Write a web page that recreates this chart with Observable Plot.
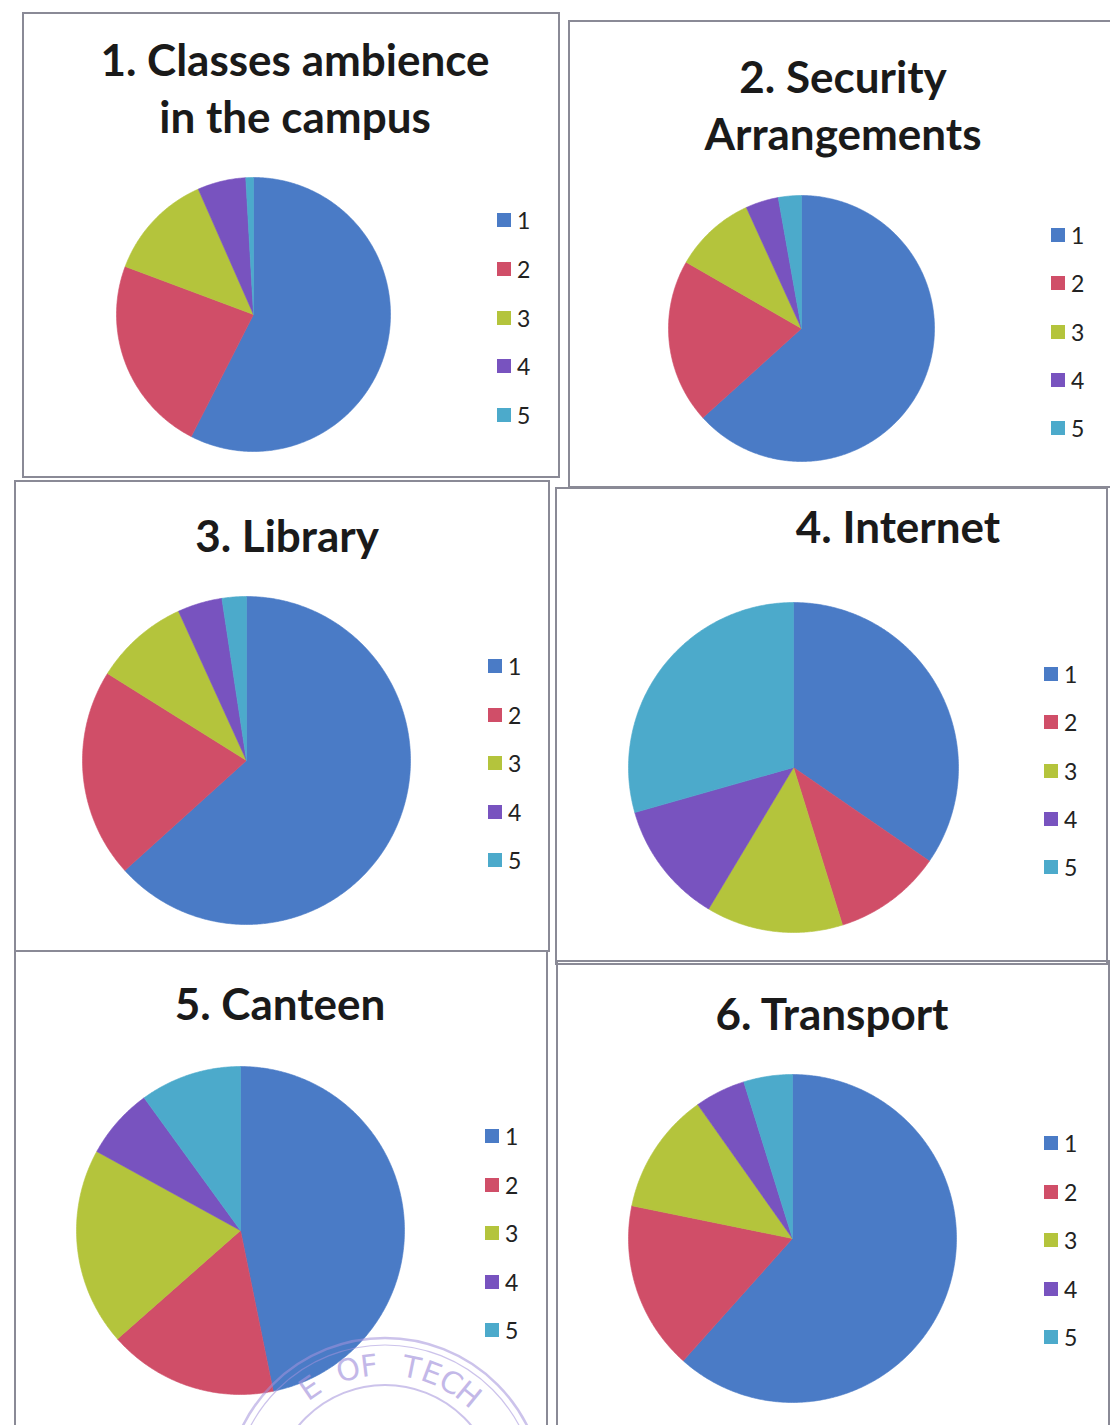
<!DOCTYPE html>
<html><head><meta charset="utf-8">
<script src="https://cdn.jsdelivr.net/npm/d3@7"></script>
<script src="https://cdn.jsdelivr.net/npm/@observablehq/plot@0.6"></script>
<style>
html,body{margin:0;padding:0;background:#fff;}
#page{position:relative;width:1110px;height:1425px;overflow:hidden;background:#fff;font-family:Lato,"Open Sans",sans-serif;}
.panel{position:absolute;border:2px solid #8a8a96;box-sizing:border-box;}
.title{position:absolute;font-weight:700;font-size:44px;color:#1a1a1a;white-space:nowrap;transform:translateX(-50%);line-height:44px;}
.pie{position:absolute;}
.leg{position:absolute;display:flex;align-items:center;height:26px;font-size:23px;color:#222;white-space:nowrap;}
.leg .sw{display:inline-block;width:14px;height:14px;margin-right:6px;}
#stamp{position:absolute;left:0;top:1300px;pointer-events:none;}
</style>
</head><body><div id="page"></div>
<script>
// ---- data ----
const categories = ["1", "2", "3", "4", "5"];
const colors = ["#4a7bc6", "#d04e68", "#b4c43c", "#7853bf", "#4caacb"];
const titles = [
  ["1. Classes ambience", "in the campus"],
  ["2. Security", "Arrangements"],
  ["3. Library"],
  ["4. Internet"],
  ["5. Canteen"],
  ["6. Transport"]
];
const classesAmbience = [57.5, 23.2, 12.7, 5.7, 0.9];
const securityArrangements = [63.3, 20.0, 9.9, 4.0, 2.8];
const library = [63.3, 20.6, 9.3, 4.4, 2.4];
const internet = [34.6, 10.6, 13.4, 12.0, 29.4];
const canteen = [46.8, 16.7, 19.5, 7.0, 10.0];
const transport = [61.6, 16.6, 12.0, 5.0, 4.8];
const series = [classesAmbience, securityArrangements, library, internet, canteen, transport];
const stampText = "INSTITUTE OF TECHNOLOGY";

// ---- layout (page pixels) ----
const panels = [
  {left: 22, top: 12, w: 538, h: 466, tx: 295, ty: [76, 133], cx: 253, cy: 314, r: 137, lx: 497, ly: 220, ls: 48.75},
  {left: 568, top: 20, w: 560, h: 468, tx: 843, ty: [93, 150], cx: 801, cy: 328, r: 133, lx: 1051, ly: 235, ls: 48.25},
  {left: 14, top: 480, w: 536, h: 472, tx: 287, ty: [552], cx: 245.5, cy: 760, r: 164, lx: 488, ly: 666, ls: 48.5},
  {left: 555, top: 487, w: 553, h: 478, tx: 898, ty: [543], cx: 793, cy: 767, r: 165, lx: 1044, ly: 674, ls: 48.25},
  {left: 14, top: 950, w: 534, h: 490, tx: 280, ty: [1020], cx: 240, cy: 1230, r: 164, lx: 485, ly: 1136, ls: 48.5},
  {left: 556, top: 960, w: 554, h: 480, tx: 832, ty: [1030], cx: 792, cy: 1238, r: 164, lx: 1044, ly: 1143, ls: 48.5}
];

const page = document.getElementById("page");

function slicePoints(values) {
  const arcs = d3.pie().sort(null)(values);
  const pts = [];
  arcs.forEach((a, i) => {
    const cat = categories[i];
    pts.push({cat, x: 0, y: 0});
    const n = Math.max(2, Math.ceil((a.endAngle - a.startAngle) / 0.01));
    for (let k = 0; k <= n; k++) {
      const t = a.startAngle + (a.endAngle - a.startAngle) * k / n;
      pts.push({cat, x: Math.sin(t), y: Math.cos(t)});
    }
    pts.push({cat, x: 0, y: 0});
  });
  return pts;
}

panels.forEach((p, idx) => {
  const box = document.createElement("div");
  box.className = "panel";
  Object.assign(box.style, {left: p.left + "px", top: p.top + "px", width: p.w + "px", height: p.h + "px"});
  page.appendChild(box);

  titles[idx].forEach((line, j) => {
    const t = document.createElement("div");
    t.className = "title";
    t.textContent = line;
    t.style.left = p.tx + "px";
    t.style.top = (p.ty[j] - 39) + "px";
    page.appendChild(t);
  });

  const pts = slicePoints(series[idx]);
  const size = 2 * p.r + 4;
  const chart = Plot.plot({
    width: size, height: size, margin: 2,
    x: {domain: [-1, 1], axis: null},
    y: {domain: [-1, 1], axis: null},
    style: {background: "transparent"},
    marks: categories.map((c, i) => Plot.line(pts.filter(d => d.cat === c), {
      x: "x", y: "y", fill: colors[i], stroke: colors[i], strokeWidth: 0.6, curve: "linear"
    }))
  });
  const holder = document.createElement("div");
  holder.className = "pie";
  holder.style.left = (p.cx - p.r - 2) + "px";
  holder.style.top = (p.cy - p.r - 2) + "px";
  holder.appendChild(chart);
  page.appendChild(holder);

  categories.forEach((c, i) => {
    const it = document.createElement("div");
    it.className = "leg";
    it.style.left = p.lx + "px";
    it.style.top = (p.ly + i * p.ls - 13) + "px";
    const sw = document.createElement("span");
    sw.className = "sw";
    sw.style.background = colors[i];
    const lab = document.createElement("span");
    lab.textContent = c;
    it.appendChild(sw); it.appendChild(lab);
    page.appendChild(it);
  });
});

// faint institute stamp at the bottom (only the part inside the page is drawn)
const offY = 1300;
const svg = d3.select(page).append("svg").attr("id", "stamp").attr("width", 1110).attr("height", 125);
const sc = {x: 385, y: 1497 - offY};
const g = svg.append("g").attr("opacity", 0.55).attr("fill", "none").attr("stroke", "#a493dc");
g.append("circle").attr("cx", sc.x).attr("cy", sc.y).attr("r", 159).attr("stroke-width", 2.5);
g.append("circle").attr("cx", sc.x).attr("cy", sc.y).attr("r", 152).attr("stroke-width", 1.2);
g.append("circle").attr("cx", sc.x).attr("cy", sc.y).attr("r", 112).attr("stroke-width", 2);
const rr = 122, step = 9.2 * Math.PI / 180, mid = 11, shift = -0.12;
const letters = stampText.split("").map((ch, i) => ({ch, a: (i - mid) * step + shift}))
  .filter(d => Math.abs(d.a) < 0.72 && d.ch !== " ");
svg.append("g").attr("fill", "#a493dc").attr("opacity", 0.65)
  .attr("font-family", "DejaVu Sans, sans-serif").attr("font-size", 30)
  .selectAll("text").data(letters).join("text")
  .attr("text-anchor", "middle")
  .attr("transform", d => {
    const x = sc.x + rr * Math.sin(d.a), y = sc.y - rr * Math.cos(d.a);
    return `translate(${x},${y}) rotate(${d.a * 180 / Math.PI})`;
  })
  .text(d => d.ch);
</script>
</body></html>
